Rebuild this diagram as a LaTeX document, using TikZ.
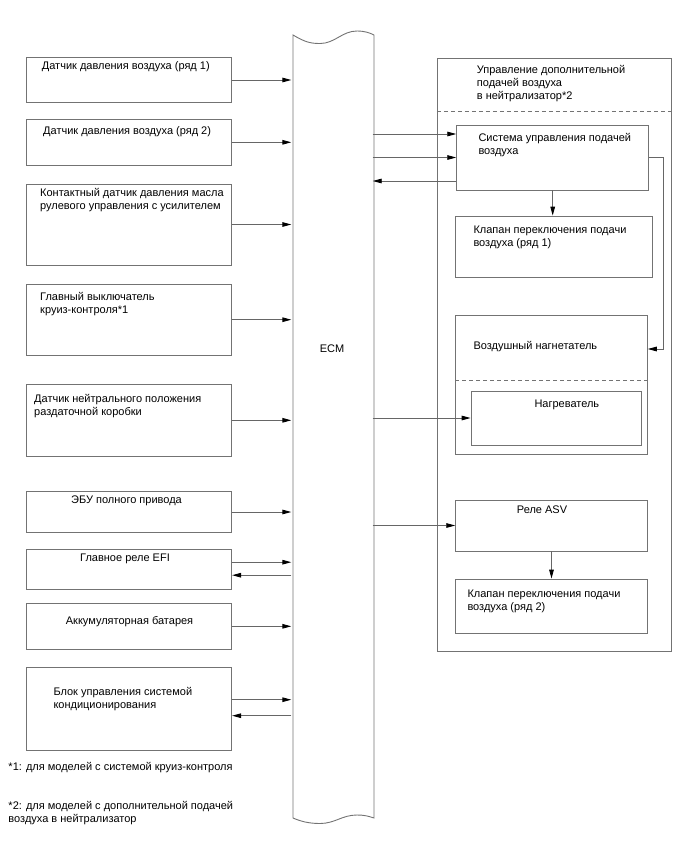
\documentclass[tikz,border=0pt]{standalone}
\usepackage{fontspec}
\setmainfont{Liberation Sans}
\usepackage{tikz}
\usetikzlibrary{arrows.meta,positioning,calc}
\tikzset{
  >={Triangle[length=9pt,width=4.6pt,color=black]},
  box/.style={draw=black!55, line width=0.9pt, inner sep=0pt},
  lbox/.style={box, minimum width=205.7pt},
  txt/.style={anchor=base west, align=left, inner sep=0pt, font=\fontsize{11}{12.9}\selectfont},
  flow/.style={->, draw=black!60, line width=0.9pt},
  divider/.style={draw=black!55, line width=0.9pt, dash pattern=on 4pt off 3pt},
}

\begin{document}
\begin{tikzpicture}[x=1pt,y=-1pt]
  \useasboundingbox (0,0) rectangle (688,852);

  % ECM bar
  \draw[black!55, line width=0.9pt]
    (293,35) .. controls (305,42) and (310,43.5) .. (320,43.5)
             .. controls (335,43.5) and (342,31) .. (357,31)
             .. controls (365,31) and (370,33) .. (374,35)
    -- (374,818) .. controls (368,816) and (364,815) .. (357,815)
             .. controls (342,815) and (335,823.5) .. (320,823.5)
             .. controls (308,823.5) and (300,821) .. (293,818) -- cycle;
  \node[minimum width=81pt, inner sep=0pt, font=\fontsize{11}{12}\selectfont] (ecm) at (332,349) {ECM};

  % inputs
  \node[lbox, minimum height=45.4pt] (s1) at (128.8,80)    {};
  \node[lbox, minimum height=46pt]   (s2) at (128.8,142.3) {};
  \node[lbox, minimum height=81pt]   (s3) at (128.8,224.5) {};
  \node[lbox, minimum height=70.7pt] (s4) at (128.8,319.7) {};
  \node[lbox, minimum height=72.7pt] (s5) at (128.8,420.3) {};
  \node[lbox, minimum height=41.4pt] (s6) at (128.8,512)   {};
  \node[lbox, minimum height=39.7pt] (s7) at (128.8,569.2) {};
  \node[lbox, minimum height=46pt]   (s8) at (128.8,626.3) {};
  \node[lbox, minimum height=82.7pt] (s9) at (128.8,708.7) {};

  \node[txt] (t1) at (41.7,69.7)  {Датчик давления воздуха (ряд 1)};
  \node[txt] (t2) at (43,134.7)   {Датчик давления воздуха (ряд 2)};
  \node[txt] (t3) at (40,209.7)   {Контактный датчик давления масла\\рулевого управления с усилителем};
  \node[txt] (t4) at (40,313)     {Главный выключатель\\круиз-контроля*1};
  \node[txt] (t5) at (34,415.7)   {Датчик нейтрального положения\\раздаточной коробки};
  \node[txt] (t6) at (71,503.3)   {ЭБУ полного привода};
  \node[txt] (t7) at (80,561.3)   {Главное реле EFI};
  \node[txt] (t8) at (65.7,624.3) {Аккумуляторная батарея};
  \node[txt] (t9) at (53.3,708.3) {Блок управления системой\\кондиционирования};

  % air injection group
  \node[box, minimum width=233.7pt, minimum height=593.4pt] (grp) at (554.2,355) {};
  \node[txt] (grptl) at (476.7,99.7) {Управление дополнительной\\подачей воздуха\\в нейтрализатор*2};
  \draw[divider] (grp.west |- 0,111) -- (grp.east |- 0,111);

  \node[box, minimum width=192pt,   minimum height=65pt]    (sys)   at (552.7,157.5) {};
  \node[box, minimum width=197.3pt, minimum height=61.3pt]  (k1)    at (553.7,246.7) {};
  \node[box, minimum width=191.6pt, minimum height=138.8pt] (blow)  at (551.5,384.9) {};
  \node[box, minimum width=170.7pt, minimum height=54pt]    (heat)  at (556.4,418)   {};
  \node[box, minimum width=191.6pt, minimum height=51pt]    (relay) at (551.5,525.5) {};
  \node[box, minimum width=191.6pt, minimum height=54.3pt]  (k2)    at (551.5,606.2) {};
  \draw[divider] (blow.west |- 0,380) -- (blow.east |- 0,380);

  \node[txt] (tsys)   at (478.3,154)   {Система управления подачей\\воздуха};
  \node[txt] (tk1)    at (473.3,246.7) {Клапан переключения подачи\\воздуха (ряд 1)};
  \node[txt] (tblow)  at (473.3,349.7) {Воздушный нагнетатель};
  \node[txt] (theat)  at (534.3,407.3) {Нагреватель};
  \node[txt] (trelay) at (516.7,513)   {Реле ASV};
  \node[txt] (tk2)    at (467.3,610.7) {Клапан переключения подачи\\воздуха (ряд 2)};

  \coordinate (blowin) at ([yshift=35.9pt]blow.east);

  % connections
  \foreach \s in {s1,s2,s3,s4,s5,s6,s8}
    \draw[flow] (\s.east) -- (\s.east -| ecm.west);
  \draw[flow] ([yshift=7pt]s7.east) -- ([yshift=7pt]s7.east -| ecm.west);
  \draw[flow] ([yshift=-6pt]s7.east -| ecm.west) -- ([yshift=-6pt]s7.east);
  \draw[flow] ([yshift=9pt]s9.east) -- ([yshift=9pt]s9.east -| ecm.west);
  \draw[flow] ([yshift=-7pt]s9.east -| ecm.west) -- ([yshift=-7pt]s9.east);

  \draw[flow] ([yshift=23.5pt]sys.west -| ecm.east) -- ([yshift=23.5pt]sys.west);
  \draw[flow] (sys.west -| ecm.east) -- (sys.west);
  \draw[flow] ([yshift=-23.5pt]sys.west) -- ([yshift=-23.5pt]sys.west -| ecm.east);
  \draw[flow] (sys.south) -- (sys.south |- k1.north);
  \draw[flow] (sys.east) -- ++(14,0) |- (blowin);
  \draw[flow] (heat.west -| ecm.east) -- (heat.west);
  \draw[flow] (relay.west -| ecm.east) -- (relay.west);
  \draw[flow] (relay.south) -- (relay.south |- k2.north);

  % notes
  \node[txt] (n1) at (8.3,770.7) {*1: для моделей с системой круиз-контроля};
  \node[txt] (n2) at (8.3,822.5) {*2: для моделей с дополнительной подачей\\воздуха в нейтрализатор};
\end{tikzpicture}
\end{document}
